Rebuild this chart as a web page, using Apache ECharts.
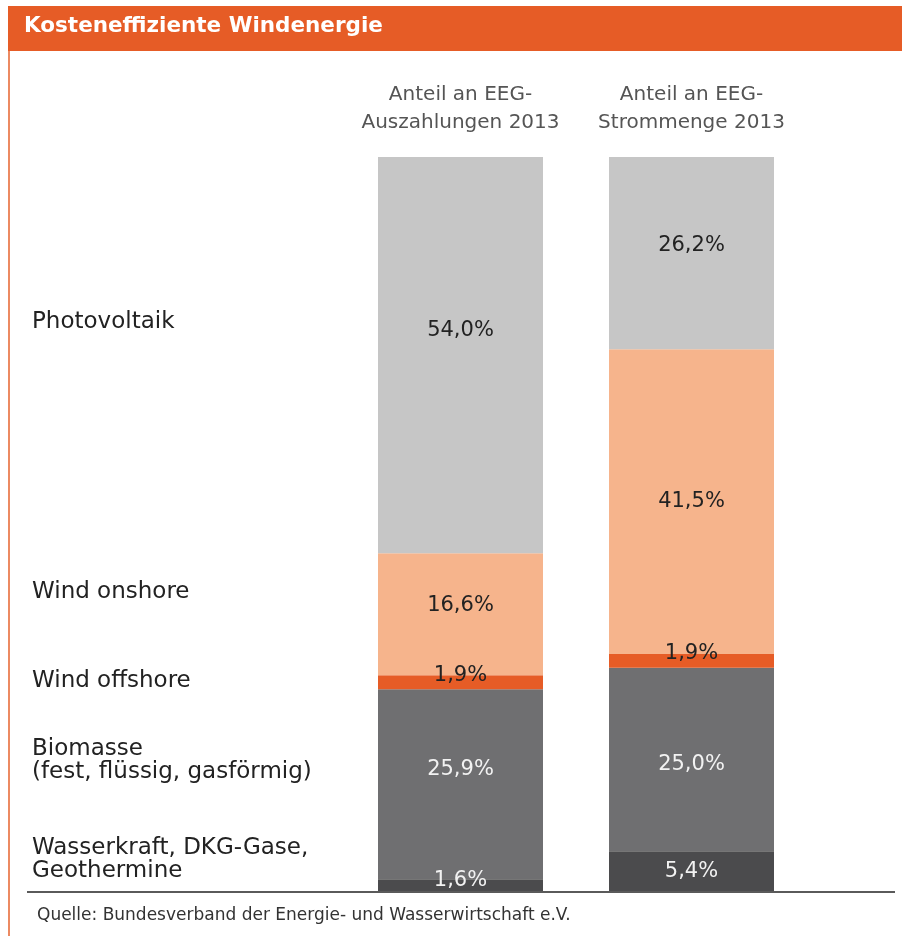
<!DOCTYPE html>
<html>
<head>
<meta charset="utf-8">
<script src="https://cdn.jsdelivr.net/npm/echarts@6/dist/echarts.min.js"></script>
<style>
  html, body { margin: 0; padding: 0; background: #fff; }
  #chart { width: 902px; height: 936px; }
</style>
</head>
<body>
<div id="chart"></div>
<script>
// Spalten (oben) und Anteile je Energieträger in Prozent
var columns = ['Anteil an EEG-\nAuszahlungen 2013', 'Anteil an EEG-\nStrommenge 2013'];
var sources = ['Wasserkraft, DKG-Gase,\nGeothermine', 'Biomasse\n(fest, flüssig, gasförmig)', 'Wind offshore', 'Wind onshore', 'Photovoltaik'];
var wasser   = [1.6, 5.4];
var biomasse = [25.9, 25.0];
var offshore = [1.9, 1.9];
var onshore  = [16.6, 41.5];
var photo    = [54.0, 26.2];

var colors = ['#4b4b4d', '#6f6f71', '#e65c26', '#f6b48c', '#c6c6c6'];
var labelColors = ['#f2f2f2', '#f2f2f2', '#222', '#222', '#222'];
// Verschiebung der Prozentangaben je Balken (wie im Original nicht immer mittig)
var labelShift = [[-5, 0], [-15, 5], [-7, -7], [-9, 0], [-25, -8]];
var values = [wasser, biomasse, offshore, onshore, photo];
var FONT = 'DejaVu Sans';

var chart = echarts.init(document.getElementById('chart'));

var series = values.map(function (vals, i) {
  return {
    name: sources[i],
    type: 'bar',
    stack: 'all',
    barWidth: 165,
    itemStyle: { color: colors[i] },
    data: vals.map(function (v, j) {
      return { value: v, label: { offset: [0, labelShift[i][j]] } };
    }),
    label: {
      show: true,
      position: 'inside',
      color: labelColors[i],
      fontFamily: FONT,
      fontSize: 21,
      formatter: function (p) { return p.value.toFixed(1).replace('.', ',') + '%'; }
    }
  };
});

// Beschriftungen links neben den Balken
var leftLabels = [
  { text: 'Photovoltaik', y: 311 },
  { text: 'Wind onshore', y: 581 },
  { text: 'Wind offshore', y: 670 },
  { text: 'Biomasse\n(fest, flüssig, gasförmig)', y: 738 },
  { text: 'Wasserkraft, DKG-Gase,\nGeothermine', y: 837 }
];

var graphic = [
  { type: 'rect', left: 8, top: 6, shape: { width: 894, height: 45 }, style: { fill: '#e65c26' } },
  { type: 'rect', left: 8, top: 51, shape: { width: 2, height: 885 }, style: { fill: '#ec8a62' } },
  { type: 'text', left: 24, top: 15, style: { text: 'Kosteneffiziente Windenergie', fill: '#fff', font: 'bold 21.5px "' + FONT + '"' } },
  { type: 'line', shape: { x1: 27, y1: 892, x2: 895, y2: 892 }, style: { stroke: '#5a5a5a', lineWidth: 2 } },
  { type: 'text', left: 37, top: 907, style: { text: 'Quelle: Bundesverband der Energie- und Wasserwirtschaft e.V.', fill: '#333', font: '17px "' + FONT + '"' } }
].concat(leftLabels.map(function (l) {
  return { type: 'text', left: 32, top: l.y, style: { text: l.text, fill: '#222', font: '23px "' + FONT + '"', lineHeight: 23 } };
}));

chart.setOption({
  animation: false,
  backgroundColor: '#fff',
  grid: { left: 345, right: 95, top: 157, bottom: 45 },
  xAxis: {
    type: 'category',
    position: 'top',
    data: columns,
    axisLine: { show: false },
    axisTick: { show: false },
    axisLabel: { interval: 0, color: '#555', fontFamily: FONT, fontSize: 20, lineHeight: 28, margin: 20 }
  },
  yAxis: { type: 'value', min: 0, max: 100, show: false },
  series: series,
  graphic: graphic
});
</script>
</body>
</html>
